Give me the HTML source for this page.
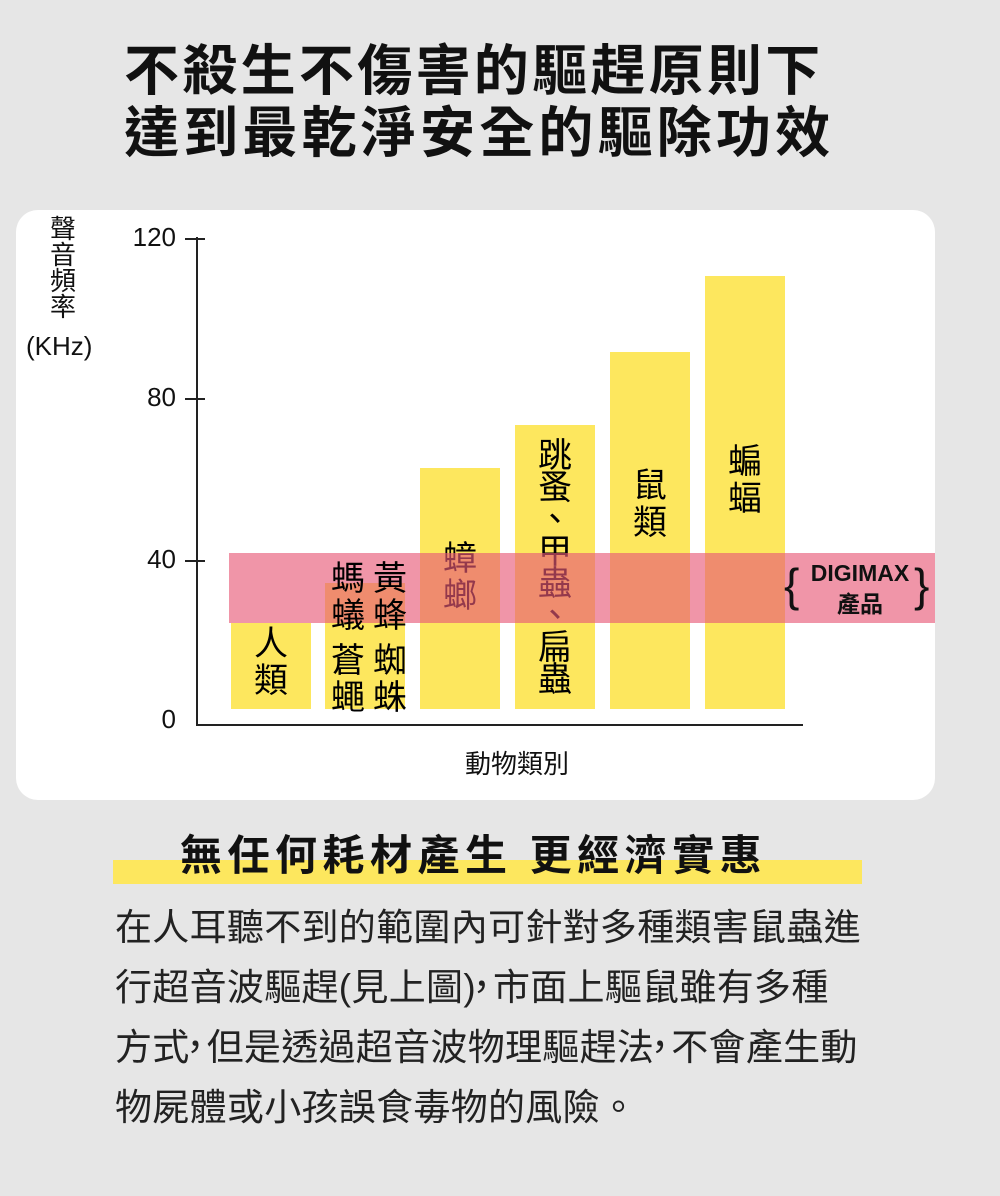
<!DOCTYPE html>
<html><head><meta charset="utf-8"><style>
*{margin:0;padding:0}
body{width:1000px;height:1196px;background:#e6e6e6;position:relative;overflow:hidden;font-family:"Liberation Sans","Noto Sans CJK TC",sans-serif;color:#111}
.a{position:absolute}
.t{font-weight:bold;font-size:55px;line-height:60px;white-space:nowrap}
.v{position:absolute;width:40px;text-align:center;font-size:34px;line-height:37px;color:#000}
.bar{position:absolute;background:#fde75e;bottom:487px}
.tk{position:absolute;font-size:26px;width:62px;text-align:right;left:114px}
.tl{position:absolute;left:185px;width:20px;height:1.5px;background:#222}
p.b{font-size:37px;line-height:60px;color:#222;letter-spacing:0.3px;white-space:nowrap}
.c{display:inline-block;width:17px;overflow:visible;letter-spacing:0;text-indent:-13px;vertical-align:top}
</style></head><body>
<div class="a t" style="left:124px;top:41px;letter-spacing:3.3px">不殺生不傷害的驅趕原則下</div>
<div class="a t" style="left:124px;top:103px;letter-spacing:4.2px">達到最乾淨安全的驅除功效</div>

<div class="a" style="left:16px;top:210px;width:919px;height:590px;background:#fff;border-radius:22px"></div>

<div class="a" style="left:46px;top:216px;width:34px;font-size:26px;line-height:26px;text-align:center">聲<br>音<br>頻<br>率</div>
<div class="a" style="left:26px;top:331px;font-size:26px">(KHz)</div>

<div class="tk" style="top:222px">120</div><div class="tl" style="top:238px"></div>
<div class="tk" style="top:382px">80</div><div class="tl" style="top:398px"></div>
<div class="tk" style="top:544px">40</div><div class="tl" style="top:560px"></div>
<div class="tk" style="top:704px">0</div>
<div class="a" style="left:196px;top:237px;width:1.5px;height:489px;background:#222"></div>
<div class="a" style="left:196px;top:724px;width:607px;height:1.5px;background:#222"></div>
<div class="a" style="left:465px;top:744px;font-size:26px">動物類別</div>

<div class="bar" style="left:231px;width:80px;top:623px"></div>
<div class="bar" style="left:325px;width:80px;top:583px"></div>
<div class="bar" style="left:420px;width:80px;top:468px"></div>
<div class="bar" style="left:515px;width:80px;top:425px"></div>
<div class="bar" style="left:610px;width:80px;top:352px"></div>
<div class="bar" style="left:705px;width:80px;top:276px"></div>

<div class="v" style="left:251px;top:626px">人<br>類</div>
<div class="v" style="left:328px;top:643px">蒼<br>蠅</div>
<div class="v" style="left:370px;top:643px">蜘<br>蛛</div>
<div class="v" style="left:440px;top:541px">蟑<br>螂</div>
<div class="v" style="left:535px;top:440px;line-height:32px">跳<br>蚤<br>、<br>甲<br>蟲<br>、<br>扁<br>蟲</div>
<div class="v" style="left:630px;top:468px">鼠<br>類</div>
<div class="v" style="left:725px;top:444px">蝙<br>蝠</div>

<div class="a" style="left:229px;top:553px;width:706px;height:70px;background:rgba(231,89,119,0.64)"></div>

<div class="v" style="left:328px;top:561px">螞<br>蟻</div>
<div class="v" style="left:370px;top:561px">黃<br>蜂</div>

<div class="a" style="left:784px;top:550px;font-size:46px;line-height:70px;font-weight:300">{</div>
<div class="a" style="left:802px;top:558px;width:116px;text-align:center;font-weight:bold;font-size:23px;line-height:31px">DIGIMAX<br>產品</div>
<div class="a" style="left:914px;top:550px;font-size:46px;line-height:70px;font-weight:300">}</div>

<div class="a" style="left:113px;top:860px;width:749px;height:24px;background:#fde75e"></div>
<div class="a" style="left:180px;top:822px;font-size:42px;font-weight:bold;letter-spacing:5.5px;white-space:nowrap">無任何耗材產生 更經濟實惠</div>

<div class="a" style="left:115px;top:898px;width:850px">
<p class="b">在人耳聽不到的範圍內可針對多種類害鼠蟲進</p>
<p class="b">行超音波驅趕(見上圖)<span class="c">，</span>市面上驅鼠雖有多種</p>
<p class="b">方式<span class="c">，</span>但是透過超音波物理驅趕法<span class="c">，</span>不會產生動</p>
<p class="b">物屍體或小孩誤食毒物的風險。</p>
</div>
</body></html>
